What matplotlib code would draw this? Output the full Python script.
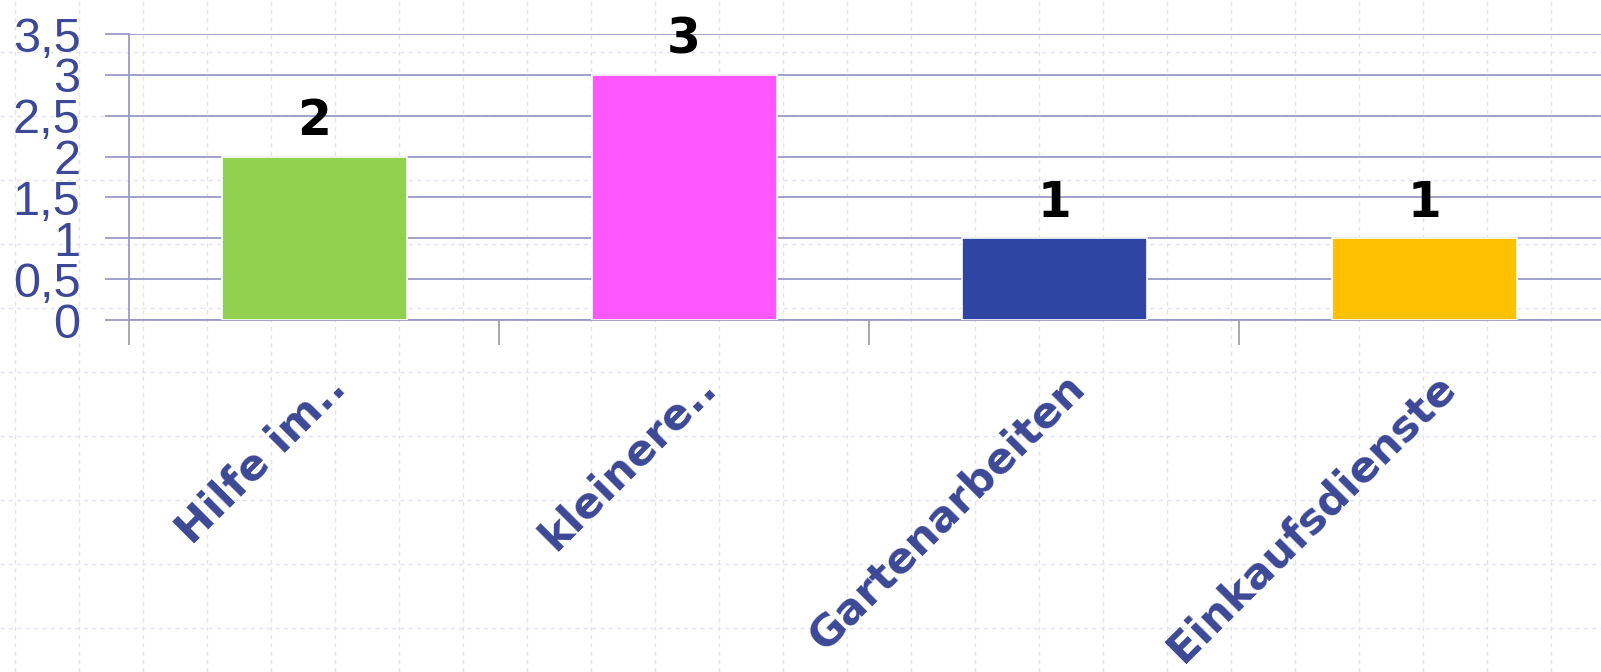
import numpy as np
import matplotlib.pyplot as plt
import matplotlib.transforms as mtransforms

# data
categories = ['Hilfe im..', 'kleinere..', 'Gartenarbeiten', 'Einkaufsdienste']
values = [2, 3, 1, 1]
colors = ['#92d050', '#ff57ff', '#2e45a3', '#ffc000']
yticks = [0, 0.5, 1, 1.5, 2, 2.5, 3, 3.5]
ytick_labels = ['0', '0,5', '1', '1,5', '2', '2,5', '3', '3,5']

W, H = 1601, 672
fig = plt.figure(figsize=(W / 100, H / 100), dpi=100)

# slide background: faint dashed grid
bg = fig.add_axes([0, 0, 1, 1], zorder=-5)
bg.set_xlim(0, W)
bg.set_ylim(H, 0)
bg.axis('off')
for x in np.arange(15, W, 64):
    bg.axvline(x, color='#e2e2f2', lw=1, ls=(0, (3, 3)))
for y in np.arange(-12, H, 64):
    bg.axhline(y, color='#e2e2f2', lw=1, ls=(0, (3, 3)))

ax = fig.add_axes([129 / W, 1 - 320 / H, 1480 / W, 286 / H])
ax.patch.set_alpha(0)

x = np.arange(len(categories))
bars = ax.bar(x, values, width=0.5, color=colors, edgecolor='white', linewidth=1.2, zorder=3)
ax.set_xlim(-0.5, len(categories) - 0.5)
ax.set_ylim(0, 3.5)

ax.set_yticks(yticks)
ax.set_yticklabels(ytick_labels, fontfamily='Liberation Sans')
ax.yaxis.grid(True, color='#9a9ac6', lw=1.3, zorder=0)
ax.tick_params(axis='y', length=17, width=1.3, color='#9a9ac6', pad=18,
               labelsize=35, labelcolor='#3d4896')

# category ticks between bars
ax.set_xticks(np.arange(len(categories) + 1) - 0.5, minor=False)
ax.set_xticklabels([''] * (len(categories) + 1))
ax.tick_params(axis='x', which='major', length=18, width=1.3, color='#a0a0a8')
ax.set_xticks(x, minor=True)
ax.set_xticklabels(categories, minor=True, rotation=45, ha='right',
                   rotation_mode='anchor', fontsize=31, fontweight='bold',
                   color='#3d4896')
ax.tick_params(axis='x', which='minor', length=0, pad=33)
offset = mtransforms.ScaledTranslation(0.1, 0, fig.dpi_scale_trans)
for lbl in ax.xaxis.get_minorticklabels():
    lbl.set_transform(lbl.get_transform() + offset)

for s in ['top', 'right']:
    ax.spines[s].set_visible(False)
ax.spines['left'].set_color('#9a9ac6')
ax.spines['left'].set_linewidth(1.3)
ax.spines['bottom'].set_color('#9a9ac6')
ax.spines['bottom'].set_linewidth(1.3)

for b, v in zip(bars, values):
    ax.annotate(str(v), (b.get_x() + b.get_width() / 2, v), xytext=(0, 8),
                textcoords='offset points', ha='center', va='bottom',
                fontsize=35, fontweight='bold', color='black')

fig.savefig('out.png', dpi=100)
